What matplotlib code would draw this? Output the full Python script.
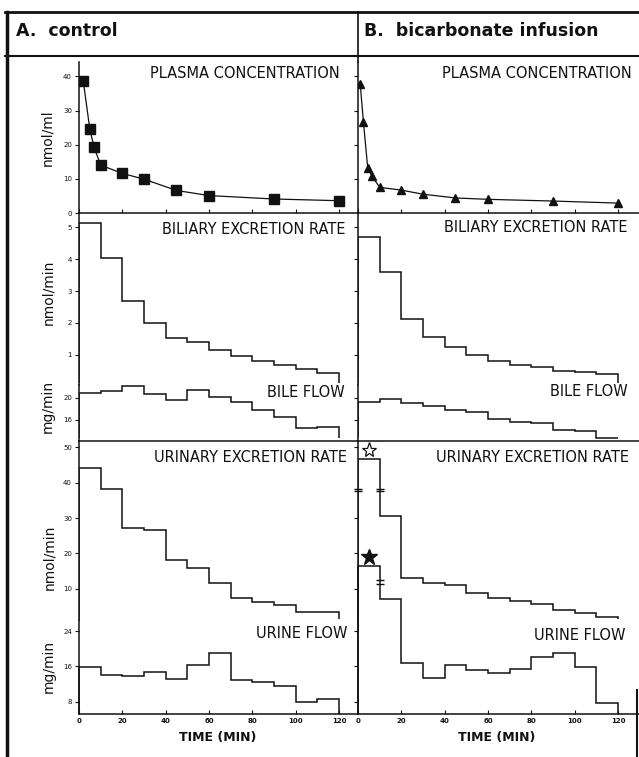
import matplotlib.pyplot as plt

W, H = 639, 757

# collection periods (min)
time_edges = [0, 10, 20, 30, 40, 50, 60, 70, 80, 90, 100, 110, 120]

# plasma concentration (nmol/ml)
plasma_a_t = [2, 5, 7, 10, 20, 30, 45, 60, 90, 120]
plasma_a = [38.5, 24.5, 19.2, 14.0, 11.6, 9.9, 6.6, 5.1, 4.1, 3.6]
plasma_b_t = [1, 2.5, 4.5, 6.5, 10, 20, 30, 45, 60, 90, 120]
plasma_b = [37.9, 26.7, 13.1, 10.8, 7.5, 6.7, 5.5, 4.4, 4.0, 3.5, 2.9]

# biliary excretion rate (nmol/min)
biliary_a = [5.12, 4.02, 2.70, 2.00, 1.52, 1.42, 1.16, 0.97, 0.81, 0.69, 0.56, 0.43]
biliary_b = [4.70, 3.59, 2.14, 1.55, 1.24, 1.00, 0.82, 0.69, 0.61, 0.51, 0.46, 0.40]

# bile flow (mg/min)
bile_a = [20.85, 21.2, 22.2, 20.7, 19.7, 21.5, 20.2, 19.2, 17.9, 16.6, 14.6, 14.7]
bile_b = [19.3, 19.8, 19.15, 18.6, 17.8, 17.5, 16.1, 15.7, 15.4, 14.2, 14.0, 12.8]

# urinary excretion rate (nmol/min); first B periods are off scale (axis break)
urinary_a = [44.1, 38.2, 27.2, 26.7, 18.0, 15.8, 11.6, 7.3, 6.2, 5.4, 3.5, 3.5]
urinary_b = [46.7, 30.6, 12.9, 11.6, 11.1, 8.7, 7.3, 6.4, 5.6, 4.0, 3.0, 2.1]

# urine flow (mg/min)
urine_a = [15.9, 14.1, 13.8, 14.8, 13.15, 16.3, 19.05, 12.9, 12.4, 11.6, 7.9, 8.7]
urine_b = [38.8, 31.2, 16.7, 13.3, 16.3, 15.2, 14.6, 15.35, 18.1, 19.0, 15.9, 7.8]

# break marks and stars on panel B urinary excretion
breaks_urinary = [(0, 38.0), (10, 38.0)]
breaks_urine = [(10, 35.2)]
star_open = (5, 49.3)
star_filled = (5, 19.1)

INK = '#111111'
LW = 1.1


def rect(x0, y0, x1, y1):
    return [x0 / W, 1 - y1 / H, (x1 - x0) / W, (y1 - y0) / H]


def ftext(x, y, s, **kw):
    fig.text(x / W, 1 - y / H, s, color=INK, **kw)


def fline(xs, ys, lw):
    fig.add_artist(plt.Line2D([x / W for x in xs], [1 - y / H for y in ys],
                              color=INK, lw=lw, transform=fig.transFigure))


def style(ax, xmax, ylim, yticks, labels, bottom=False, xlabels=False):
    ax.set_xlim(0, xmax)
    ax.set_ylim(*ylim)
    ax.patch.set_alpha(0)
    for s in ['top', 'right']:
        ax.spines[s].set_visible(False)
    ax.spines['left'].set_linewidth(1.1)
    ax.spines['left'].set_color(INK)
    ax.spines['bottom'].set_visible(bottom)
    ax.spines['bottom'].set_linewidth(1.1)
    ax.spines['bottom'].set_color(INK)
    ax.set_yticks(yticks)
    ax.tick_params(axis='y', direction='out', length=3, width=0.8, pad=2,
                   labelsize=5, colors=INK, labelleft=labels)
    if bottom and (xlabels is not None):
        ax.set_xticks(time_edges[::2])
        ax.tick_params(axis='x', direction='in', length=3, width=0.8, pad=3,
                       labelsize=5, colors=INK, labelbottom=xlabels)
    else:
        ax.set_xticks([])


fig = plt.figure(figsize=(W / 100, H / 100), dpi=100)

rows = {'plasma': (62, 213), 'biliary': (213, 385), 'bile': (385, 441),
        'urinary': (441, 620), 'urine': (620, 714)}
ylims = {'plasma': (0, 44.2), 'biliary': (0.06, 5.44), 'bile': (12.18, 22.36),
         'urinary': (1.13, 51.8), 'urine': (5.2, 26.5)}

panels = [
    ('A', 79, 358, 128.8, plasma_a_t, plasma_a, 's', 6.5, biliary_a, bile_a, urinary_a, urine_a),
    ('B', 358, 639, 129.7, plasma_b_t, plasma_b, '^', 6.0, biliary_b, bile_b, urinary_b, urine_b),
]

for name, x0, x1, xmax, pt, pv, mk, ms, bil, bf, ur, uf in panels:
    show = name == 'A'
    axs = {k: fig.add_axes(rect(x0, r[0], x1, r[1])) for k, r in rows.items()}

    ax = axs['plasma']
    ax.plot(pt, pv, color=INK, lw=0.9, marker=mk, ms=ms, mfc=INK, mec=INK)
    style(ax, xmax, ylims['plasma'], [0, 10, 20, 30, 40] if show else [10, 20, 30, 40],
          show, bottom=True, xlabels=False)

    ax = axs['biliary']
    ax.stairs(bil, time_edges, baseline=ylims['biliary'][0] + 0.05, color=INK, lw=LW)
    style(ax, xmax, ylims['biliary'], [1, 2, 3, 4, 5], show)

    ax = axs['bile']
    ax.stairs(bf, time_edges, baseline=ylims['bile'][0] + 0.5, color=INK, lw=LW)
    style(ax, xmax, ylims['bile'], [16, 20], show, bottom=True, xlabels=None)

    ax = axs['urinary']
    ax.stairs(ur, time_edges, baseline=ylims['urinary'][0] + 0.3, color=INK, lw=LW)
    style(ax, xmax, ylims['urinary'], [10, 20, 30, 40, 50] if show else [10, 20, 30, 50], show)

    ax = axs['urine']
    ax.stairs(uf, time_edges, baseline=ylims['urine'][0], color=INK, lw=LW, clip_on=False)
    style(ax, xmax, ylims['urine'], [8, 16, 24], show, bottom=True, xlabels=True)
    for lab in ax.get_xticklabels():
        lab.set_fontweight('bold')

    if name == 'B':
        ax = axs['urinary']
        for bx, by in breaks_urinary:
            ax.plot([bx, bx], [by - 0.35, by + 0.35], ls='none', marker='_', ms=6,
                    mew=1.0, color=INK, clip_on=False)
        ax.plot(*star_open, marker='*', ms=11, mfc='white', mec=INK, mew=0.9)
        ax.plot(*star_filled, marker='*', ms=12, mfc=INK, mec=INK)
        axu = axs['urine']
        for bx, by in breaks_urine:
            axu.plot([bx, bx], [by - 0.45, by + 0.45], ls='none', marker='_', ms=6,
                     mew=1.0, color=INK, clip_on=False)

# panel titles
title_kw = dict(fontsize=10.5, ha='right', va='center')
for right, shift in [(340, 0), (632, 0)]:
    ftext(right, 74, 'PLASMA CONCENTRATION', **title_kw)
ftext(345, 230, 'BILIARY EXCRETION RATE', **title_kw)
ftext(628, 227, 'BILIARY EXCRETION RATE', **title_kw)
ftext(345, 393, 'BILE FLOW', **title_kw)
ftext(628, 392, 'BILE FLOW', **title_kw)
ftext(347, 458, 'URINARY EXCRETION RATE', **title_kw)
ftext(629, 457, 'URINARY EXCRETION RATE', **title_kw)
ftext(348, 633, 'URINE FLOW', **title_kw)
ftext(626, 635, 'URINE FLOW', **title_kw)

# y axis labels
ylab_kw = dict(fontsize=10, rotation=90, ha='center', va='center')
ftext(47, 138, 'nmol/ml', **ylab_kw)
ftext(48, 292, 'nmol/min', **ylab_kw)
ftext(48, 406, 'mg/min', **ylab_kw)
ftext(49, 557, 'nmol/min', **ylab_kw)
ftext(49, 666, 'mg/min', **ylab_kw)

# x axis labels
ftext(218, 737, 'TIME (MIN)', fontsize=9, fontweight='bold', ha='center', va='center')
ftext(497, 737, 'TIME (MIN)', fontsize=9, fontweight='bold', ha='center', va='center')

# header
ftext(16, 31, 'A.  control', fontsize=12.5, fontweight='bold', ha='left', va='center')
ftext(364, 31, 'B.  bicarbonate infusion', fontsize=12.5, fontweight='bold',
      ha='left', va='center')

# frame lines
fline([5, 639], [12, 12], 2.0)
fline([5, 639], [56, 56], 1.5)
fline([7, 7], [12, 757], 2.5)
fline([358, 358], [12, 62], 1.2)
fline([637, 637], [690, 757], 1.5)

fig.savefig('out.png', dpi=100)
